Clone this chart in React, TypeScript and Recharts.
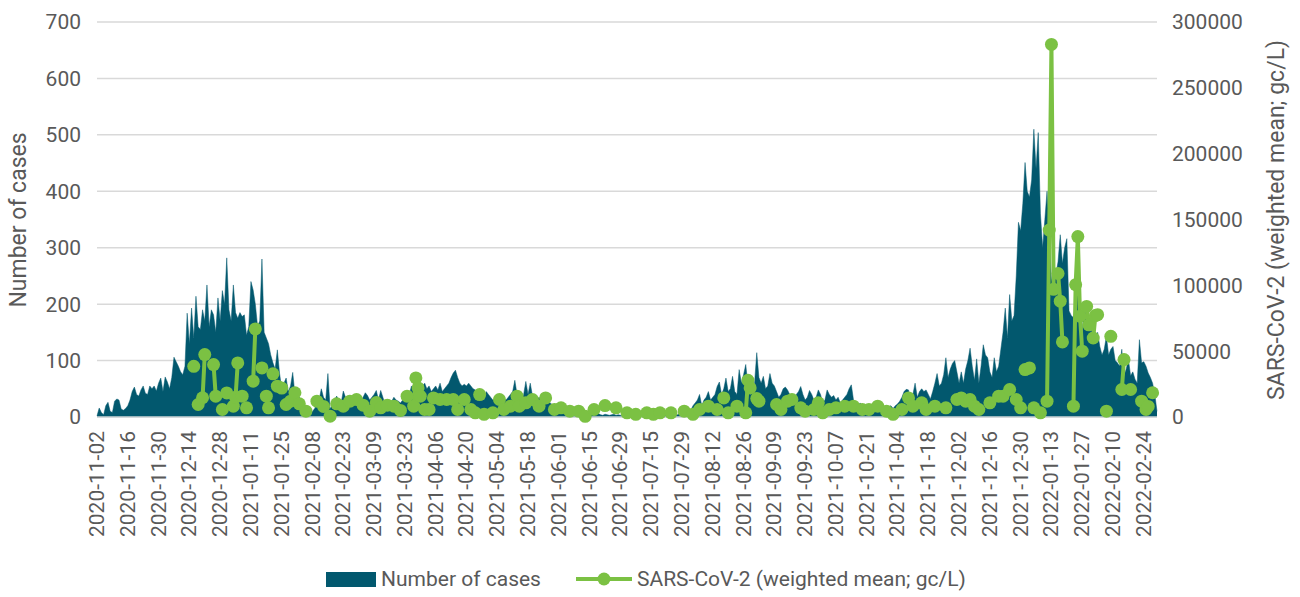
import React from "react";
import {
  ComposedChart, Area, Line, XAxis, YAxis, CartesianGrid,
} from "recharts";

// daily categories (dates with no report are left out of the axis)
const firstDay = "2020-11-02";
const lastDay = "2022-03-02";
const missingDays = ["2021-02-15", "2021-07-04", "2021-07-05"];

// number of cases, one row per two weeks starting 2020-11-02
const caseRows: number[][] = [
  [2, 16, 8, 4, 20, 26, 10, 8, 28, 32, 30, 14, 12, 15],
  [20, 30, 45, 53, 40, 37, 48, 55, 42, 40, 55, 50, 55, 46],
  [60, 69, 45, 71, 62, 50, 70, 106, 98, 90, 80, 75, 90, 184],
  [130, 193, 140, 214, 160, 155, 190, 170, 234, 160, 190, 181, 150, 211],
  [170, 224, 200, 282, 190, 170, 234, 185, 175, 185, 178, 181, 145, 160],
  [240, 225, 200, 161, 170, 280, 150, 140, 130, 110, 96, 85, 119, 78],
  [49, 60, 69, 45, 55, 79, 40, 38, 35, 30, 17, 20, 12, 5],
  [10, 15, 25, 30, 50, 35, 30, 77, 15, 20, 30, 37, 28, 25],
  [46, 35, 30, 28, 30, 25, 32, 30, 28, 35, 43, 38, 30, 35],
  [40, 47, 30, 47, 35, 22, 25, 30, 28, 35, 30, 28, 25, 30],
  [35, 45, 40, 55, 45, 58, 50, 60, 55, 60, 50, 55, 45, 50],
  [55, 48, 60, 45, 50, 55, 60, 70, 78, 83, 70, 60, 55, 58],
  [55, 60, 55, 50, 48, 45, 42, 40, 30, 45, 40, 35, 30, 32],
  [35, 30, 28, 32, 30, 35, 40, 45, 65, 40, 35, 30, 40, 63],
  [40, 60, 38, 35, 30, 35, 30, 32, 28, 30, 25, 22, 20, 18],
  [15, 20, 12, 10, 15, 12, 10, 8, 10, 8, 6, 8, 10, 7],
  [5, 6, 4, 5, 6, 4, 3, 5, 4, 3, 4, 5, 3, 4],
  [3, 2, 3, 2, 4, 3, 2, 2, 3, 2, 3, 2, 3, 2],
  [3, 2, 3, 4, 2, 3, 4, 3, 5, 4, 6, 5, 4, 6],
  [5, 8, 6, 10, 12, 20, 25, 30, 40, 20, 30, 35, 45, 30],
  [35, 40, 54, 62, 40, 50, 69, 45, 50, 72, 45, 40, 84, 60],
  [75, 93, 55, 40, 45, 60, 114, 70, 60, 72, 50, 55, 77, 60],
  [55, 45, 35, 40, 50, 53, 48, 40, 30, 35, 40, 45, 54, 40],
  [30, 35, 47, 40, 30, 35, 48, 40, 25, 30, 48, 40, 35, 38],
  [30, 35, 25, 30, 35, 40, 50, 57, 30, 25, 20, 25, 20, 18],
  [20, 15, 18, 22, 20, 18, 22, 20, 15, 12, 18, 20, 15, 20],
  [23, 28, 35, 45, 49, 48, 30, 40, 60, 35, 45, 50, 45, 48],
  [40, 32, 45, 60, 77, 55, 60, 75, 105, 70, 85, 95, 100, 80],
  [60, 80, 60, 85, 100, 122, 90, 65, 103, 60, 90, 128, 110, 105],
  [80, 70, 105, 80, 90, 120, 150, 193, 140, 217, 170, 180, 250, 345],
  [330, 379, 451, 400, 390, 420, 510, 440, 504, 360, 300, 350, 400, 330],
  [240, 260, 252, 275, 323, 272, 300, 316, 188, 180, 176, 200, 237, 160],
  [150, 202, 167, 172, 150, 167, 140, 150, 125, 110, 120, 143, 110, 120],
  [125, 100, 96, 90, 120, 73, 85, 102, 73, 80, 67, 60, 137, 96],
  [98, 90, 78, 70, 60, 40, 10],
];

// wastewater samples
const sarsDates = [
  "2020-12-16", "2020-12-18", "2020-12-20", "2020-12-21", "2020-12-25", "2020-12-26",
  "2020-12-29", "2020-12-31", "2021-01-03", "2021-01-04", "2021-01-05", "2021-01-07",
  "2021-01-09", "2021-01-12", "2021-01-13", "2021-01-16", "2021-01-18", "2021-01-19",
  "2021-01-21", "2021-01-23", "2021-01-25", "2021-01-27", "2021-01-29", "2021-01-31",
  "2021-02-02", "2021-02-05", "2021-02-10", "2021-02-13", "2021-02-17", "2021-02-20",
  "2021-02-23", "2021-02-26", "2021-03-01", "2021-03-04", "2021-03-07", "2021-03-10",
  "2021-03-12", "2021-03-15", "2021-03-18", "2021-03-21", "2021-03-24", "2021-03-27",
  "2021-03-28", "2021-03-29", "2021-03-30", "2021-04-01", "2021-04-03", "2021-04-05",
  "2021-04-08", "2021-04-11", "2021-04-14", "2021-04-16", "2021-04-19", "2021-04-22",
  "2021-04-24", "2021-04-26", "2021-04-28", "2021-05-02", "2021-05-05", "2021-05-07",
  "2021-05-10", "2021-05-13", "2021-05-14", "2021-05-17", "2021-05-20", "2021-05-23",
  "2021-05-26", "2021-05-30", "2021-06-02", "2021-06-06", "2021-06-10", "2021-06-13",
  "2021-06-17", "2021-06-22", "2021-06-27", "2021-07-02", "2021-07-08", "2021-07-13",
  "2021-07-16", "2021-07-19", "2021-07-24", "2021-07-30", "2021-08-03", "2021-08-06",
  "2021-08-10", "2021-08-14", "2021-08-17", "2021-08-19", "2021-08-23", "2021-08-27",
  "2021-08-28", "2021-08-29", "2021-09-01", "2021-09-02", "2021-09-10", "2021-09-12",
  "2021-09-15", "2021-09-17", "2021-09-21", "2021-09-23", "2021-09-27", "2021-09-29",
  "2021-10-01", "2021-10-04", "2021-10-07", "2021-10-11", "2021-10-15", "2021-10-19",
  "2021-10-22", "2021-10-26", "2021-10-30", "2021-11-02", "2021-11-06", "2021-11-09",
  "2021-11-11", "2021-11-15", "2021-11-17", "2021-11-21", "2021-11-26", "2021-12-01",
  "2021-12-03", "2021-12-05", "2021-12-07", "2021-12-09", "2021-12-11", "2021-12-16",
  "2021-12-20", "2021-12-22", "2021-12-25", "2021-12-28", "2021-12-30", "2022-01-01",
  "2022-01-03", "2022-01-05", "2022-01-08", "2022-01-11", "2022-01-12", "2022-01-13",
  "2022-01-14", "2022-01-16", "2022-01-17", "2022-01-18", "2022-01-23", "2022-01-24",
  "2022-01-25", "2022-01-26", "2022-01-27", "2022-01-29", "2022-01-30", "2022-02-01",
  "2022-02-02", "2022-02-03", "2022-02-07", "2022-02-09", "2022-02-14", "2022-02-15",
  "2022-02-18", "2022-02-23", "2022-02-25", "2022-02-26", "2022-02-28",
];
const sarsValues = [
  38500, 9500, 14600, 47400, 39800, 15800,
  5700, 18300, 8200, 15000, 41100, 15800,
  7000, 27200, 66900, 37300, 15800, 7000,
  32800, 23400, 22000, 9500, 12000, 18400,
  10000, 4400, 12000, 8000, 600, 10000,
  8200, 12000, 13300, 9000, 4400, 11000,
  7000, 9000, 8200, 5000, 15800, 8200,
  29700, 22100, 15800, 5700, 5700, 14500,
  13300, 13300, 13300, 5700, 13300, 5700,
  3200, 17000, 2000, 3200, 13300, 5700,
  8200, 15800, 8200, 10800, 13300, 8200,
  14500, 5700, 7000, 4400, 4400, 500,
  5700, 8700, 7000, 3200, 2000, 3200,
  2000, 3200, 3200, 4400, 2000, 5700,
  8200, 5700, 14500, 3200, 8200, 3200,
  27900, 22100, 14000, 12000, 9500, 5700,
  12000, 13300, 7000, 4400, 5700, 10800,
  3200, 5700, 7000, 8200, 8200, 5700,
  5700, 8200, 4400, 2000, 5700, 14500,
  8200, 10800, 5700, 8200, 7000, 13300,
  14500, 12000, 13300, 8200, 5700, 10800,
  15800, 15800, 20900, 13300, 7000, 36000,
  37300, 7000, 3200, 12000, 142000, 283000,
  97000, 109000, 88000, 57000, 8200, 100500,
  137000, 76500, 50000, 84000, 70000, 60000,
  77000, 77700, 4400, 61300, 20900, 43600,
  20900, 12000, 5700, 8000, 18400,
];

const casesColor = "#02586e";
const sarsColor = "#7bc143";
const textColor = "#595959";
const font = "Roboto, 'Liberation Sans', sans-serif";

const leftTicks = [0, 100, 200, 300, 400, 500, 600, 700];
const rightTicks = [0, 50000, 100000, 150000, 200000, 250000, 300000];

const dates: string[] = [];
for (let t = Date.parse(firstDay); t <= Date.parse(lastDay); t += 86400000) {
  const d = new Date(t).toISOString().slice(0, 10);
  if (!missingDays.includes(d)) dates.push(d);
}
const cases = caseRows.flat();
const sarsByDate = new Map(sarsDates.map((d, i) => [d, sarsValues[i]]));
const data = dates.map((date, i) => ({
  date,
  cases: cases[i] ?? 0,
  sars: sarsByDate.get(date) ?? null,
}));

const XTick = ({ x, y, payload }: any) => (
  <text
    x={x}
    y={y}
    transform={`rotate(-90, ${x}, ${y})`}
    textAnchor="end"
    dominantBaseline="central"
    fill={textColor}
    fontSize={21}
    fontFamily={font}
  >
    {payload.value}
  </text>
);

export default function App() {
  const tick = { fill: textColor, fontSize: 21, fontFamily: font };
  return (
    <div style={{ position: "absolute", left: 0, top: 0, width: 1300, height: 597, background: "#fff", fontFamily: font }}>
      <ComposedChart
        width={1300}
        height={597}
        data={data}
        margin={{ top: 22, right: 0, bottom: 0, left: 0 }}
      >
        <CartesianGrid yAxisId="left" vertical={false} stroke="#d9d9d9" strokeWidth={1.5} />
        <XAxis
          dataKey="date"
          interval={13}
          height={180}
          tickSize={0}
          tickMargin={14}
          tick={<XTick />}
          axisLine={{ stroke: "#cfd6d9", strokeWidth: 1.5 }}
          tickLine={false}
        />
        <YAxis
          yAxisId="left"
          domain={[0, 700]}
          ticks={leftTicks}
          width={97}
          tickSize={0}
          tickMargin={16}
          tick={tick}
          axisLine={false}
          tickLine={false}
        />
        <YAxis
          yAxisId="right"
          orientation="right"
          domain={[0, 300000]}
          ticks={rightTicks}
          width={143}
          tickSize={0}
          tickMargin={15}
          tick={tick}
          axisLine={false}
          tickLine={false}
        />
        <Area
          yAxisId="left"
          type="linear"
          dataKey="cases"
          stroke={casesColor}
          strokeWidth={0.5}
          fill={casesColor}
          fillOpacity={1}
          isAnimationActive={false}
        />
        <Line
          yAxisId="right"
          type="linear"
          dataKey="sars"
          stroke={sarsColor}
          strokeWidth={4}
          dot={{ r: 6.5, fill: sarsColor, stroke: sarsColor, strokeWidth: 0 }}
          activeDot={false}
          connectNulls={false}
          isAnimationActive={false}
        />
      </ComposedChart>

      <div style={{ position: "absolute", left: 18, top: 220, transform: "translate(-50%, -50%) rotate(-90deg)", whiteSpace: "nowrap", color: textColor, fontSize: 23 }}>
        Number of cases
      </div>
      <div style={{ position: "absolute", left: 1276, top: 220, transform: "translate(-50%, -50%) rotate(-90deg)", whiteSpace: "nowrap", color: textColor, fontSize: 23 }}>
        SARS-CoV-2 (weighted mean; gc/L)
      </div>

      <div style={{ position: "absolute", left: 326, top: 572, width: 50, height: 15, background: casesColor }} />
      <div style={{ position: "absolute", left: 381, top: 566, color: textColor, fontSize: 21, lineHeight: "26px" }}>
        Number of cases
      </div>
      <svg style={{ position: "absolute", left: 574, top: 569 }} width={60} height={20}>
        <line x1={2} y1={10} x2={58} y2={10} stroke={sarsColor} strokeWidth={4} />
        <circle cx={30} cy={10} r={6.5} fill={sarsColor} />
      </svg>
      <div style={{ position: "absolute", left: 637, top: 566, color: textColor, fontSize: 21, lineHeight: "26px" }}>
        SARS-CoV-2 (weighted mean; gc/L)
      </div>
    </div>
  );
}
